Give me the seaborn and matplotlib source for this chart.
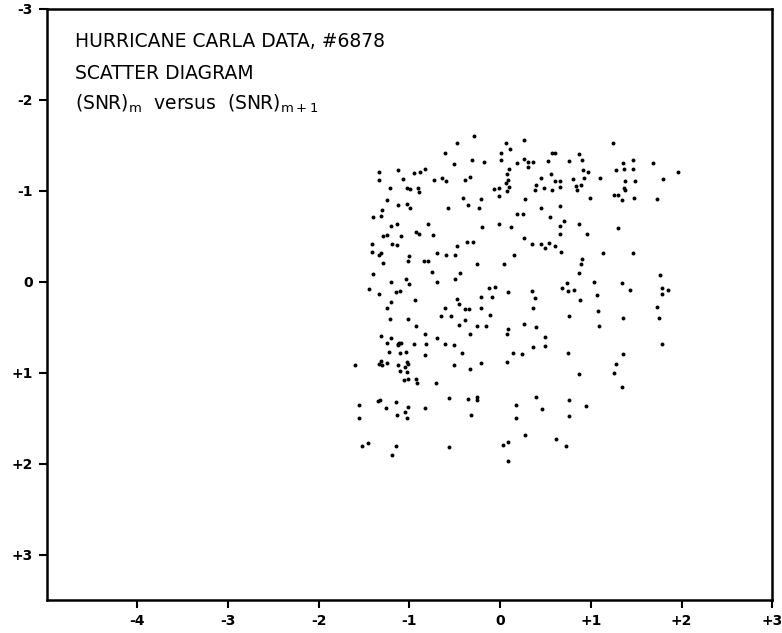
import seaborn as sns
import numpy as np
import pandas as pd
import matplotlib.pyplot as plt

# SNR scatter points
x_left_upper = [-0.29, -0.48, -0.61, -0.31, -0.51, -1.34, -1.12, -0.95, -0.88, -0.83,
                -1.07, -1.34, -0.73, -0.64, -0.60, -0.39, -0.33, -1.21, -1.03, -0.99,
                -0.91, -0.89, -0.41, -0.21, -1.25, -1.13, -1.03, -0.99, -0.57, -0.35,
                -0.23, -1.30, -1.40, -1.31, -0.80, -0.20, -1.20, -1.14, -1.29, -1.25,
                -1.09, -0.93, -0.89, -0.74, -0.36, -0.30, -1.41, -1.19, -1.14, -0.47,
                -1.41, -1.34, -1.31, -1.29, -1.02, -1.00, -0.84, -0.80, -0.70, -0.60,
                -0.50, -0.25, -0.75, -1.40, -0.44, -1.20, -1.04, -1.00, -0.70, -0.50]
y_left_upper = [-1.60, -1.53, -1.42, -1.34, -1.29, -1.21, -1.23, -1.20, -1.21, -1.24,
                -1.13, -1.12, -1.12, -1.14, -1.11, -1.12, -1.15, -1.03, -1.03, -1.02,
                -1.03, -0.99, -0.92, -0.91, -0.90, -0.84, -0.85, -0.81, -0.81, -0.84,
                -0.81, -0.79, -0.71, -0.72, -0.64, -0.60, -0.61, -0.63, -0.50, -0.51,
                -0.50, -0.55, -0.52, -0.51, -0.44, -0.44, -0.41, -0.42, -0.40, -0.39,
                -0.33, -0.29, -0.32, -0.21, -0.23, -0.28, -0.23, -0.23, -0.32, -0.29,
                -0.29, -0.20, -0.11, -0.08, -0.10, 0.00, -0.03, 0.02, 0.00, -0.03]

x_left_lower = [-1.45, -1.34, -1.15, -1.10, -0.94, -1.20, -1.25, -1.21, -1.01, -0.93,
                -1.31, -1.20, -1.25, -1.12, -1.11, -1.09, -1.12, -1.10, -1.04, -1.23,
                -0.95, -0.83, -0.82, -0.70, -0.61, -0.51, -0.83, -0.42, -1.60, -1.34,
                -1.31, -1.30, -1.25, -1.13, -1.03, -1.02, -1.05, -1.10, -1.03, -1.06,
                -1.01, -0.93, -0.92, -0.71, -0.51, -0.33, -0.21, -0.65, -0.61, -0.54,
                -0.47, -0.45, -0.39, -0.34, -0.39, -0.45, -0.25, -0.33, -0.21, -0.21,
                -1.56, -1.56, -1.35, -1.32, -1.26, -1.15, -1.14, -1.05, -1.03, -1.02,
                -0.83, -0.56, -0.35, -0.25, -0.25, -0.32, -1.52, -1.46, -1.15, -1.19,
                -0.56]
y_left_lower = [0.08, 0.13, 0.11, 0.10, 0.20, 0.22, 0.29, 0.41, 0.41, 0.49,
                0.60, 0.62, 0.67, 0.69, 0.67, 0.67, 0.70, 0.78, 0.77, 0.77,
                0.68, 0.58, 0.68, 0.62, 0.68, 0.70, 0.81, 0.78, 0.92, 0.90,
                0.87, 0.91, 0.89, 0.91, 0.88, 0.90, 0.94, 0.98, 0.99, 1.08,
                1.07, 1.07, 1.11, 1.11, 0.92, 0.96, 0.89, 0.38, 0.29, 0.38,
                0.19, 0.25, 0.30, 0.30, 0.42, 0.48, 0.49, 0.57, 0.17, 0.29,
                1.36, 1.50, 1.31, 1.30, 1.39, 1.32, 1.47, 1.43, 1.50, 1.38,
                1.39, 1.28, 1.29, 1.27, 1.30, 1.46, 1.81, 1.77, 1.81, 1.90,
                1.82]

x_mid_upper = [0.06, 0.26, 0.11, 0.01, -0.18, 0.01, 0.19, 0.26, 0.31, 0.36,
               0.31, 0.53, 0.57, 0.61, 0.76, 0.87, 0.90, 0.91, 0.97, 1.10,
               1.24, 1.28, 1.26, 1.30, 0.10, 0.08, 0.06, 0.09, 0.10, 0.08,
               -0.07, -0.01, -0.01, 0.45, 0.56, 0.61, 0.66, 0.40, 0.39, 0.48,
               0.57, 0.66, 0.80, 0.84, 0.85, 0.89, 0.93, 0.28, 0.99, 0.19,
               0.25, 0.45, 0.66, 0.55, 0.70, -0.01, 0.12, 0.66, 0.87, 0.66,
               0.96, 0.26, 0.35, 0.45, 0.49, 0.54, 0.60, 0.67, 0.15, 0.04,
               1.13, 0.90, 0.89, 0.87, 1.04, 0.74, 1.30]
y_mid_upper = [-1.52, -1.56, -1.46, -1.41, -1.32, -1.34, -1.31, -1.35, -1.32, -1.32,
               -1.26, -1.33, -1.41, -1.42, -1.33, -1.40, -1.34, -1.23, -1.21, -1.14,
               -1.52, -1.23, -0.95, -0.95, -1.24, -1.18, -1.09, -1.12, -1.04, -1.00,
               -1.02, -1.03, -0.94, -1.14, -1.18, -1.11, -1.11, -1.06, -1.01, -1.03,
               -1.01, -1.04, -1.13, -1.05, -1.01, -1.06, -1.14, -0.91, -0.92, -0.75,
               -0.75, -0.81, -0.83, -0.71, -0.67, -0.64, -0.60, -0.61, -0.63, -0.53,
               -0.53, -0.48, -0.42, -0.41, -0.37, -0.43, -0.39, -0.33, -0.29, -0.19,
               -0.32, -0.25, -0.20, -0.10, 0.00, 0.01, -0.59]

x_mid_lower = [-0.12, -0.06, 0.09, 0.35, 0.68, 0.75, 0.81, -0.09, 0.39, 0.88,
               1.07, 0.36, -0.11, 0.76, 1.08, -0.15, 0.09, 0.08, 0.26, 0.40,
               0.49, 0.49, 0.36, 0.14, 0.24, 0.75, 1.09, 0.08, 0.87, 1.28,
               1.26, 0.40, 0.17, 0.46, 0.18, 0.76, 0.76, 0.95, 0.28, 0.09,
               0.03, 0.62, 0.73, 0.09]
y_mid_lower = [0.07, 0.06, 0.11, 0.10, 0.07, 0.10, 0.09, 0.17, 0.18, 0.20,
               0.15, 0.29, 0.37, 0.38, 0.32, 0.49, 0.52, 0.58, 0.47, 0.50,
               0.61, 0.71, 0.72, 0.78, 0.79, 0.78, 0.49, 0.88, 1.01, 0.90,
               1.00, 1.27, 1.36, 1.40, 1.50, 1.30, 1.48, 1.37, 1.69, 1.76,
               1.79, 1.73, 1.81, 1.97]

x_right_upper = [1.36, 1.46, 1.69, 1.96, 1.37, 1.46, 1.38, 1.49, 1.80, 1.37,
                 1.38, 1.34, 1.48, 1.73, 1.46, 1.76, 1.34]
y_right_upper = [-1.31, -1.34, -1.30, -1.21, -1.24, -1.24, -1.11, -1.11, -1.13, -1.03,
                 -1.01, -0.90, -0.92, -0.91, -0.32, -0.07, 0.01]

x_right_lower = [1.43, 1.78, 1.85, 1.78, 1.73, 1.35, 1.75, 1.78, 1.35, 1.34]
y_right_lower = [0.09, 0.07, 0.09, 0.13, 0.28, 0.40, 0.40, 0.69, 0.80, 1.16]

x_ticks = [-4, -3, -2, -1, 0, 1, 2, 3]
x_tick_labels = ["-4", "-3", "-2", "-1", "0", "+1", "+2", "+3"]
y_ticks = [-3, -2, -1, 0, 1, 2, 3]
y_tick_labels = ["-3", "-2", "-1", "0", "+1", "+2", "+3"]

blocks = [(x_left_upper, y_left_upper), (x_left_lower, y_left_lower),
          (x_mid_upper, y_mid_upper), (x_mid_lower, y_mid_lower),
          (x_right_upper, y_right_upper), (x_right_lower, y_right_lower)]
snr = pd.concat([pd.DataFrame({"snr_m": bx, "snr_m1": by}) for bx, by in blocks],
                ignore_index=True)

sns.set_style("white")
plt.rcParams["font.family"] = ["DejaVu Sans"]
plt.rcParams["text.color"] = "black"

fig = plt.figure(figsize=(7.82, 6.33), dpi=100)
ax = fig.add_axes([0.0595, 0.052, 0.928, 0.934])

sns.scatterplot(data=snr, x="snr_m", y="snr_m1", ax=ax, color="black",
                s=8, linewidth=0, legend=False)

ax.set_xlim(-5, 3)
ax.set_ylim(3.5, -3)
ax.set_xticks(x_ticks)
ax.set_xticklabels(x_tick_labels, fontsize=10, fontweight="bold")
ax.set_yticks(y_ticks)
ax.set_yticklabels(y_tick_labels, fontsize=10, fontweight="bold")
ax.tick_params(axis="both", direction="out", length=6, width=1.5, color="black",
               labelcolor="black", bottom=True, left=True, pad=4)
ax.set_xlabel("")
ax.set_ylabel("")
for sp in ax.spines.values():
    sp.set_visible(True)
    sp.set_color("black")
    sp.set_linewidth(1.8)

ax.text(0.039, 0.944, "HURRICANE CARLA DATA, #6878", transform=ax.transAxes,
        fontsize=13.5, va="center", ha="left", color="black")
ax.text(0.039, 0.890, "SCATTER DIAGRAM", transform=ax.transAxes,
        fontsize=13.5, va="center", ha="left", color="black")
ax.text(0.039, 0.839, r"(SNR)$_{\rm m}$  versus  (SNR)$_{\rm m+1}$", transform=ax.transAxes,
        fontsize=13.5, va="center", ha="left", color="black")

fig.savefig("out.png", dpi=100)
